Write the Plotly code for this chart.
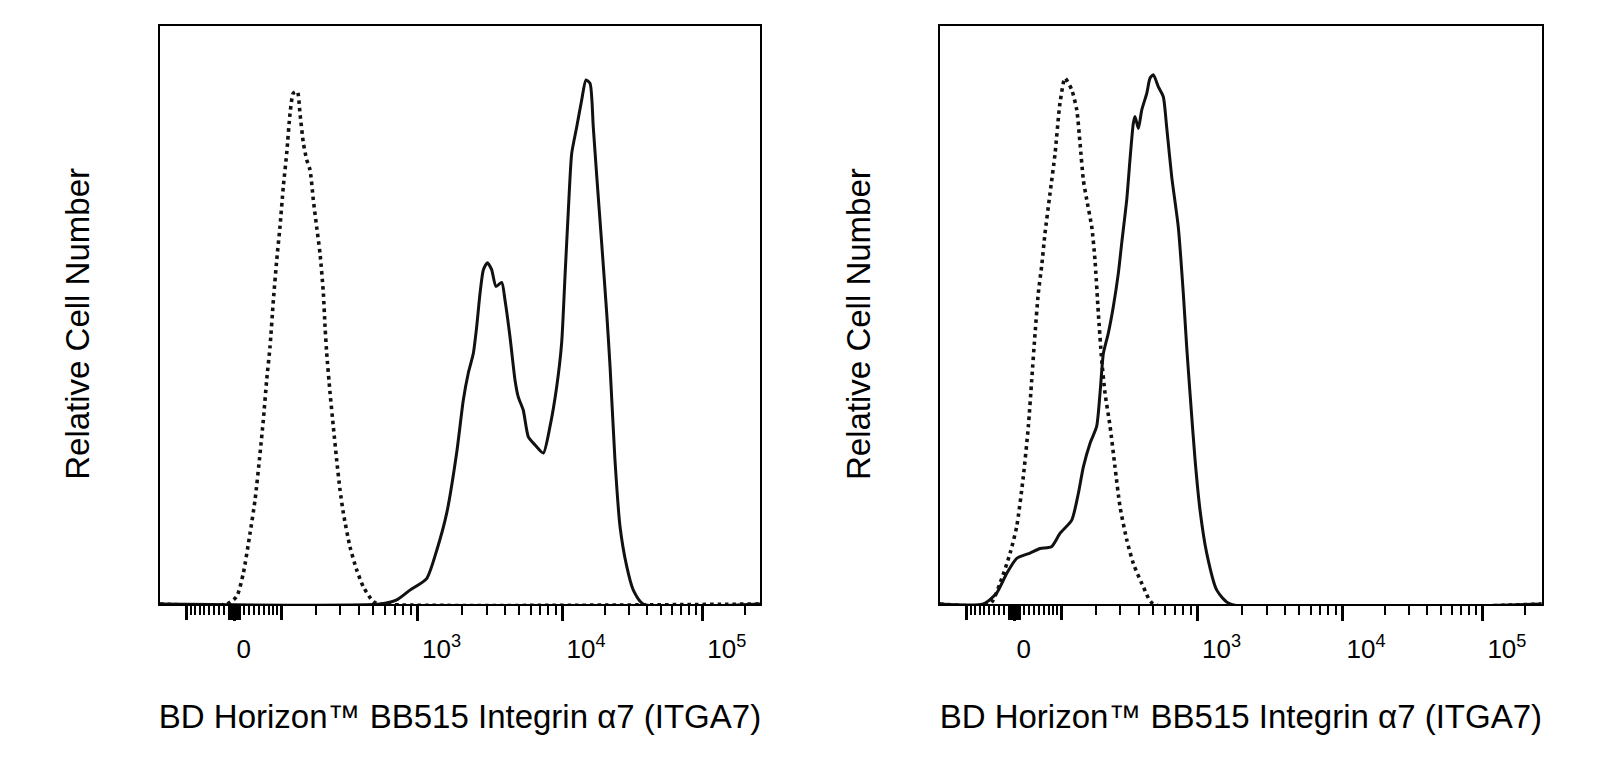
import numpy as np
import plotly.graph_objects as go

# ---------------- data (x in biexponential display units: decades, 3 = 10^3) ----------------
left_isotype_x = [1.598, 1.669, 1.716, 1.764, 1.800, 1.836, 1.859, 1.883, 1.907, 1.931, 1.955, 1.978,
                  2.002, 2.026, 2.050, 2.073, 2.102, 2.121, 2.145, 2.169, 2.193, 2.216, 2.240, 2.264,
                  2.288, 2.300, 2.312, 2.336, 2.359, 2.383, 2.407, 2.431, 2.478, 2.526, 2.573, 2.645, 2.693]
left_isotype_y = [0.0, 1.3, 5.3, 12.2, 18.0, 26.1, 31.8, 38.7, 44.5, 52.6, 59.5, 65.2,
                  72.2, 77.9, 84.8, 88.3, 88.6, 84.8, 79.7, 76.8, 75.0, 69.9, 65.2, 60.6,
                  53.7, 47.9, 43.3, 36.4, 30.7, 24.9, 19.7, 15.7, 9.9, 5.9, 3.0, 0.4, 0.0]

left_stained_x = [2.693, 2.812, 2.907, 3.026, 3.098, 3.169, 3.240, 3.288, 3.323, 3.359, 3.383, 3.407,
                  3.431, 3.459, 3.490, 3.521, 3.562, 3.585, 3.621, 3.657, 3.680, 3.716, 3.752, 3.800,
                  3.859, 3.907, 3.955, 3.990, 4.014, 4.038, 4.062, 4.098, 4.133, 4.164, 4.193, 4.216,
                  4.241, 4.276, 4.312, 4.336, 4.371, 4.407, 4.455, 4.502, 4.573]
left_stained_y = [0.0, 0.7, 2.4, 4.4, 9.3, 15.7, 26.1, 35.3, 39.9, 43.3, 47.9, 53.7,
                  57.8, 59.0, 57.8, 54.9, 55.6, 52.6, 46.2, 38.7, 35.8, 33.5, 28.9, 27.5,
                  26.1, 30.7, 37.6, 45.1, 56.6, 68.1, 77.9, 82.5, 87.1, 90.6, 90.0, 82.5,
                  73.9, 62.4, 50.3, 41.0, 24.9, 13.4, 6.5, 2.4, 0.0]

right_isotype_x = [1.478, 1.550, 1.622, 1.669, 1.716, 1.752, 1.776, 1.800, 1.823, 1.848, 1.871, 1.907,
                   1.943, 1.978, 2.014, 2.062, 2.098, 2.121, 2.145, 2.169, 2.205, 2.228, 2.252, 2.276,
                   2.300, 2.336, 2.371, 2.407, 2.455, 2.502, 2.573, 2.645]
right_isotype_y = [0.0, 3.6, 8.8, 13.4, 22.0, 30.7, 38.7, 46.8, 53.7, 58.6, 64.1, 71.0,
                   77.9, 86.6, 90.9, 88.9, 85.4, 79.7, 73.3, 69.9, 65.2, 59.5, 50.3, 42.2,
                   36.4, 30.7, 23.7, 16.8, 11.1, 7.0, 3.0, 0.0]

right_stained_x = [1.430, 1.526, 1.598, 1.669, 1.764, 1.836, 1.917, 1.978, 2.062, 2.109, 2.145, 2.193,
                   2.240, 2.264, 2.288, 2.323, 2.359, 2.395, 2.419, 2.455, 2.478, 2.502, 2.514, 2.538,
                   2.562, 2.598, 2.621, 2.645, 2.681, 2.716, 2.740, 2.776, 2.823, 2.859, 2.883, 2.907,
                   2.943, 2.978, 3.026, 3.098, 3.193]
right_stained_y = [0.0, 1.9, 5.3, 7.9, 8.8, 9.6, 9.9, 12.2, 14.5, 19.1, 23.7, 27.8,
                   30.7, 36.4, 43.3, 46.8, 51.4, 57.2, 62.4, 69.9, 76.8, 83.1, 84.3, 82.2,
                   85.4, 88.3, 90.9, 91.5, 89.4, 87.7, 82.5, 73.9, 65.2, 53.7, 44.5, 36.4,
                   24.9, 16.3, 8.8, 2.4, 0.0]

# axis tick values (fluorescence intensity)
labeled_tick_values = [0, 1000, 10000, 100000]
labeled_tick_text = ["0\u00a0\u00a0\u00a0\u00a0", "10<sup>3</sup>", "10<sup>4</sup>", "10<sup>5</sup>"]
long_tick_values = [-100, -10, -8, -6, -4, -2, 2, 4, 6, 8, 10, 100]
minor_tick_values = ([-90, -80, -70, -60, -50, -40, -30, -20, 20, 30, 40, 50, 60, 70, 80, 90]
                     + [200, 300, 400, 500, 600, 700, 800, 900]
                     + [2000, 3000, 4000, 5000, 6000, 7000, 8000, 9000]
                     + [20000, 30000, 40000, 50000, 60000, 70000, 80000, 90000, 200000])

x_title = "BD Horizon™ BB515 Integrin α7 (ITGA7)"
y_title = "Relative Cell Number"

# ---------------- biexponential display transform ----------------
ZERO_POS = 1.651
LIN_COEF = 67.0


def biex_value(p):
    u = np.asarray(p, dtype=float) - ZERO_POS
    return 10 ** ZERO_POS * (10 ** u - 10 ** (-u)) + LIN_COEF * u


_grid = np.linspace(-2.0, 7.0, 200001)
_vals = biex_value(_grid)


def to_display(v):
    return list(np.interp(np.asarray(v, dtype=float), _vals, _grid))


X_RANGE_L = [1.121, 5.407]
X_RANGE_R = [1.121, 5.419]
W, H = 1605, 762
FONT = "Arial, Liberation Sans, Helvetica, sans-serif"

fig = go.Figure()


def add_hist(xs, ys, xr, xa, ya, dotted):
    x = [xr[0]] + list(xs) + [xr[1]]
    y = [0.0] + list(ys) + [0.0]
    fig.add_trace(go.Scatter(
        x=x, y=y, mode="lines", xaxis=xa, yaxis=ya,
        line=dict(color="#111111", width=3.6 if dotted else 3.0,
                  dash="3.5px,4px" if dotted else "solid", shape="spline", smoothing=0.6),
        showlegend=False, hoverinfo="skip"))


add_hist(left_isotype_x, left_isotype_y, X_RANGE_L, "x3", "y", True)
add_hist(left_stained_x, left_stained_y, X_RANGE_L, "x", "y", False)
add_hist(right_isotype_x, right_isotype_y, X_RANGE_R, "x4", "y2", True)
add_hist(right_stained_x, right_stained_y, X_RANGE_R, "x2", "y2", False)

y_bottom = 1 - 604 / H
y_top = 1 - 25.6 / H


def xaxis(domain, rng, anchor):
    return dict(
        domain=domain, range=rng, anchor=anchor,
        showline=True, linecolor="black", linewidth=2, mirror=True,
        showgrid=False, zeroline=False,
        tickmode="array", tickvals=to_display(labeled_tick_values), ticktext=labeled_tick_text,
        ticks="outside", ticklen=15, tickwidth=3, tickcolor="black",
        minor=dict(tickmode="array", tickvals=to_display(minor_tick_values), ticks="outside",
                   ticklen=9, tickwidth=2, tickcolor="black", showgrid=False),
        tickfont=dict(family=FONT, size=26, color="black"),
        ticklabelshift=24, ticklabelstandoff=6,
        title=dict(text=x_title, font=dict(family=FONT, size=33, color="black"), standoff=42),
        fixedrange=True,
    )


def long_tick_axis(domain, rng, anchor, over):
    # unlabeled long ticks (-100, the dense zero block, +100) drawn as "minor" ticks of an overlay axis
    return dict(
        domain=domain, range=rng, anchor=anchor, overlaying=over, side="bottom",
        showline=False, showgrid=False, zeroline=False, showticklabels=False,
        tickmode="array", tickvals=[], ticks="",
        minor=dict(tickmode="array", tickvals=to_display(long_tick_values), ticks="outside",
                   ticklen=15, tickwidth=3, tickcolor="black", showgrid=False),
        fixedrange=True,
    )


def yaxis(anchor):
    return dict(
        domain=[y_bottom, y_top], range=[0, 100], anchor=anchor,
        showline=True, linecolor="black", linewidth=2, mirror=True,
        showgrid=False, zeroline=False, showticklabels=False, ticks="",
        fixedrange=True,
    )


dom_l = [160 / W, 760 / W]
dom_r = [940 / W, 1541.7 / W]
ytitle_y = 1 - 324 / H
annotations = [
    dict(text=y_title, xref="paper", yref="paper", x=76.8 / W, y=ytitle_y,
         xanchor="center", yanchor="middle", textangle=-90, showarrow=False,
         font=dict(family=FONT, size=33, color="black")),
    dict(text=y_title, xref="paper", yref="paper", x=858 / W, y=ytitle_y,
         xanchor="center", yanchor="middle", textangle=-90, showarrow=False,
         font=dict(family=FONT, size=33, color="black")),
]

fig.update_layout(
    width=W, height=H,
    margin=dict(l=0, r=0, t=0, b=0),
    paper_bgcolor="white", plot_bgcolor="white",
    xaxis=xaxis(dom_l, X_RANGE_L, "y"),
    yaxis=yaxis("x"),
    xaxis2=xaxis(dom_r, X_RANGE_R, "y2"),
    yaxis2=yaxis("x2"),
    xaxis3=long_tick_axis(dom_l, X_RANGE_L, "y", "x"),
    xaxis4=long_tick_axis(dom_r, X_RANGE_R, "y2", "x2"),
    annotations=annotations,
)

fig.write_html("out.html", config={"displayModeBar": False},
               post_script="document.body.style.margin='0';")
